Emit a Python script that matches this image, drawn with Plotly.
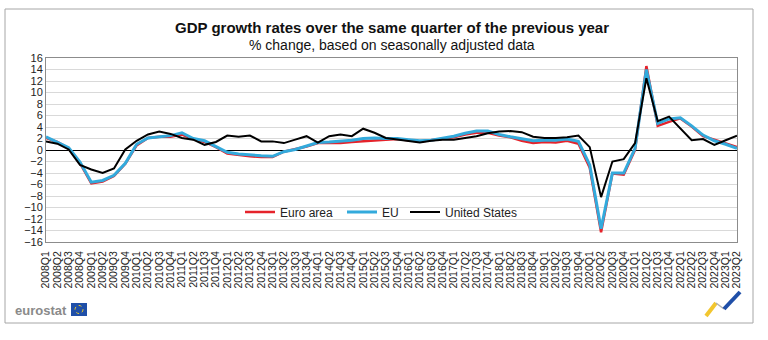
import plotly.graph_objects as go

quarters = [f"{y}Q{q}" for y in range(2008, 2024) for q in range(1, 5)][:62]

euro_area = [2.1, 1.4, 0.3, -2.3, -5.8, -5.5, -4.5, -2.4, 0.8, 2.1, 2.3, 2.3,
             2.7, 1.9, 1.4, 0.5, -0.6, -0.9, -1.1, -1.2, -1.2, -0.3, 0.1, 0.6,
             1.2, 1.2, 1.2, 1.4, 1.5, 1.7, 1.8, 1.9, 1.7, 1.5, 1.7, 1.9,
             2.2, 2.7, 3.0, 3.0, 2.5, 2.2, 1.6, 1.2, 1.4, 1.3, 1.6, 1.1,
             -3.1, -14.3, -4.1, -4.3, 0.0, 14.6, 4.2, 4.9, 5.5, 4.1, 2.4, 1.8,
             1.2, 0.5]

eu = [2.3, 1.4, 0.4, -2.1, -5.6, -5.3, -4.4, -2.3, 1.0, 2.1, 2.3, 2.5,
      3.0, 2.0, 1.6, 0.6, -0.4, -0.7, -0.9, -1.0, -1.1, -0.3, 0.1, 0.7,
      1.3, 1.4, 1.5, 1.7, 2.0, 2.1, 2.0, 2.0, 1.8, 1.6, 1.7, 2.0,
      2.4, 2.9, 3.3, 3.3, 2.7, 2.3, 1.9, 1.6, 1.7, 1.7, 1.9, 1.5,
      -2.6, -13.7, -4.0, -4.0, 0.3, 14.0, 4.6, 5.4, 5.6, 4.2, 2.6, 1.6,
      1.0, 0.3]

united_states = [1.5, 1.1, 0.1, -2.6, -3.4, -4.0, -3.2, 0.1, 1.6, 2.7, 3.2, 2.8,
                 2.1, 1.8, 0.9, 1.4, 2.5, 2.3, 2.5, 1.5, 1.5, 1.2, 1.8, 2.4,
                 1.3, 2.4, 2.7, 2.4, 3.7, 3.0, 2.1, 1.8, 1.6, 1.3, 1.6, 1.8,
                 1.8, 2.1, 2.4, 2.9, 3.2, 3.3, 3.1, 2.3, 2.1, 2.1, 2.2, 2.5,
                 0.5, -8.2, -2.0, -1.6, 1.2, 12.5, 5.0, 5.8, 3.8, 1.7, 1.9, 0.9,
                 1.7, 2.5]

y_ticks = list(range(-16, 17, 2))

FONT = "Liberation Sans, Arial, sans-serif"

fig = go.Figure()
fig.add_trace(go.Scatter(x=quarters, y=euro_area, name="Euro area", mode="lines",
                         line=dict(color="#E5232B", width=2.5), legend="legend"))
fig.add_trace(go.Scatter(x=quarters, y=eu, name="EU", mode="lines",
                         line=dict(color="#33AADC", width=3), legend="legend2"))
fig.add_trace(go.Scatter(x=quarters, y=united_states, name="United States", mode="lines",
                         line=dict(color="#000000", width=2), legend="legend3"))

# plot-area geometry in pixels (for decoration placement)
L, R, T, B = 46, 31, 58, 98
W, H = 768, 340
pw, ph = W - L - R, H - T - B


def px(x):
    return (x - L) / pw


def py(y):
    return (H - B - y) / ph


leg_common = dict(orientation="h", yanchor="middle", xanchor="left",
                  bgcolor="rgba(0,0,0,0)", font=dict(family=FONT, size=12, color="#222"),
                  y=py(212))

fig.update_layout(
    width=W, height=H,
    margin=dict(l=L, r=R, t=T, b=B),
    paper_bgcolor="white", plot_bgcolor="white",
    font=dict(family=FONT, color="#222"),
    showlegend=True,
    legend=dict(leg_common, x=px(240)),
    legend2=dict(leg_common, x=px(342)),
    legend3=dict(leg_common, x=px(405)),
    xaxis=dict(type="category", range=[0, len(quarters) - 1], showgrid=False,
               showline=True, mirror=True, linecolor="#8C8C8C", linewidth=1,
               tickmode="array", tickvals=quarters, ticktext=quarters,
               tickangle=-90, ticks="", ticklabelstandoff=4,
               tickfont=dict(family=FONT, size=10.5, color="#222"), zeroline=False),
    xaxis2=dict(type="linear", range=[0, len(quarters) - 1], overlaying="x",
                anchor="free", position=0.5, side="bottom", showgrid=False,
                showline=False, zeroline=False, tick0=0, dtick=1,
                ticks="outside", ticklen=5, tickcolor="#000", tickwidth=1,
                showticklabels=False),
    yaxis=dict(range=[-16, 16], tickvals=y_ticks, showgrid=True, gridcolor="#D9D9D9",
               gridwidth=1, zeroline=True, zerolinecolor="#000", zerolinewidth=1,
               showline=True, mirror=True, linecolor="#8C8C8C", linewidth=1,
               ticks="", tickfont=dict(family=FONT, size=11, color="#222")),
    annotations=[
        dict(text="<b>GDP growth rates over the same quarter of the previous year</b>",
             xref="paper", yref="paper", x=0.5, y=py(28), xanchor="center",
             yanchor="middle", showarrow=False, font=dict(family=FONT, size=15, color="#111")),
        dict(text="% change, based on seasonally adjusted data",
             xref="paper", yref="paper", x=0.5, y=py(45), xanchor="center",
             yanchor="middle", showarrow=False, font=dict(family=FONT, size=14, color="#111")),
        dict(text="<b>eurostat</b>", xref="paper", yref="paper", x=px(13), y=py(310),
             xanchor="left", yanchor="middle", showarrow=False,
             font=dict(family=FONT, size=13, color="#8A8A8A")),
    ],
    shapes=[
        dict(type="rect", xref="paper", yref="paper", x0=px(5), x1=px(753),
             y0=py(9), y1=py(323), line=dict(color="#A6A6A6", width=1), layer="below"),
        dict(type="rect", xref="paper", yref="paper", x0=px(71), x1=px(87),
             y0=py(303), y1=py(316), fillcolor="#1F4FA8", line=dict(width=0)),
        dict(type="circle", xref="paper", yref="paper", x0=px(75), x1=px(83),
             y0=py(305.5), y1=py(313.5), line=dict(color="#E8C830", width=1, dash="dot")),
        dict(type="line", xref="paper", yref="paper", x0=px(706), x1=px(716),
             y0=py(316), y1=py(303), line=dict(color="#F2C62F", width=4)),
        dict(type="line", xref="paper", yref="paper", x0=px(716), x1=px(724),
             y0=py(303), y1=py(309), line=dict(color="#B0B0B0", width=1.5)),
        dict(type="line", xref="paper", yref="paper", x0=px(724), x1=px(740),
             y0=py(309), y1=py(292), line=dict(color="#1F4FA8", width=4)),
    ],
)

fig.write_html("out.html")
